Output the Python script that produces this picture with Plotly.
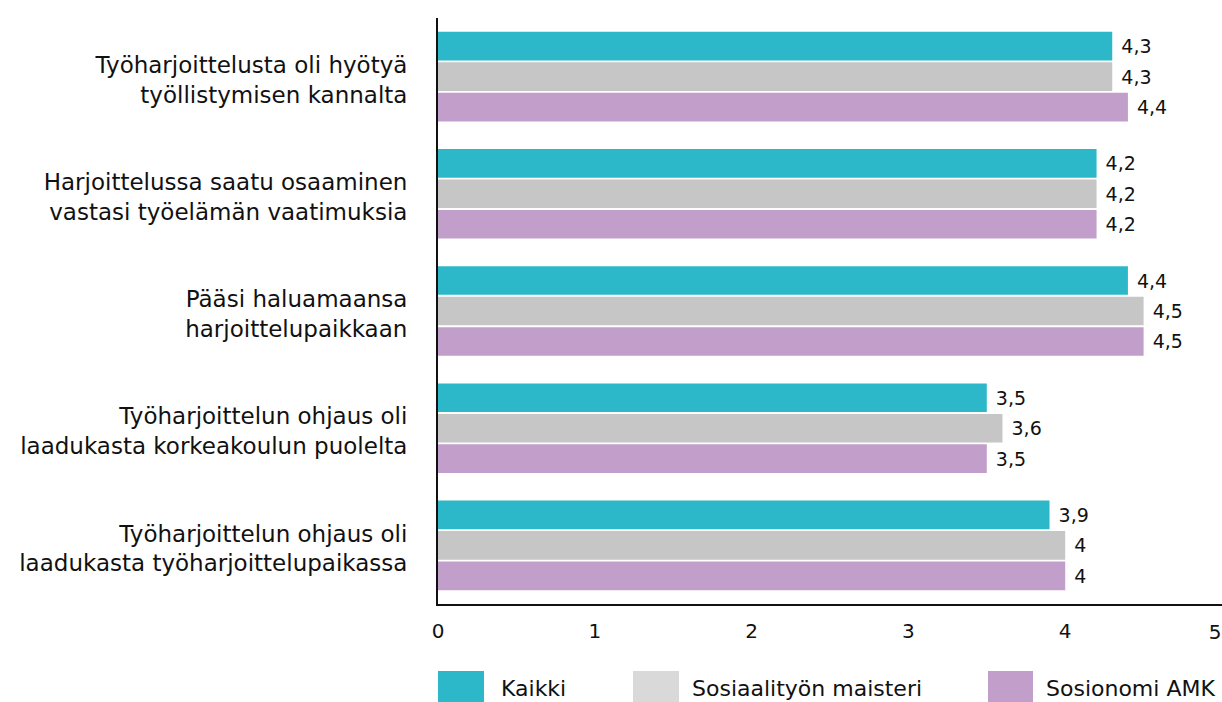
import plotly.graph_objects as go

categories = [
    "Työharjoittelusta oli hyötyä<br>työllistymisen kannalta",
    "Harjoittelussa saatu osaaminen<br>vastasi työelämän vaatimuksia",
    "Pääsi haluamaansa<br>harjoittelupaikkaan",
    "Työharjoittelun ohjaus oli<br>laadukasta korkeakoulun puolelta",
    "Työharjoittelun ohjaus oli<br>laadukasta työharjoittelupaikassa",
]
series_names = ["Kaikki", "Sosiaalityön maisteri", "Sosionomi AMK"]
kaikki = [4.3, 4.2, 4.4, 3.5, 3.9]
sosiaalityo = [4.3, 4.2, 4.5, 3.6, 4.0]
sosionomi = [4.4, 4.2, 4.5, 3.5, 4.0]
x_ticks = [0, 1, 2, 3, 4, 5]

bar_colors = ["#2cb8c8", "#c6c6c6", "#c29eca"]
legend_colors = ["#2cb8c8", "#d9d9d9", "#c29eca"]
FONT = "DejaVu Sans, sans-serif"

fig = go.Figure()
for name, vals, col in zip(series_names, [kaikki, sosiaalityo, sosionomi], bar_colors):
    fig.add_trace(go.Bar(
        y=categories, x=vals, name=name, orientation="h",
        marker=dict(color=col, line=dict(width=0)),
        text=[("%g" % v).replace(".", ",") for v in vals],
        texttemplate="\u00a0%{text}",
        textposition="outside", cliponaxis=False,
        textfont=dict(family=FONT, size=19, color="#111111"),
        showlegend=False,
    ))

# invisible helper trace so the secondary x axis (carrying the last tick label) is drawn
fig.add_trace(go.Scatter(x=kaikki, y=categories, xaxis="x2", yaxis="y",
                         mode="markers", marker=dict(opacity=0, size=1),
                         hoverinfo="skip", showlegend=False))

tickfont = dict(family=FONT, size=20, color="#111111")
fig.update_layout(
    width=1222, height=702,
    margin=dict(l=438, r=0, t=18, b=98, autoexpand=False),
    paper_bgcolor="white", plot_bgcolor="white",
    barmode="group", bargap=0.22, bargroupgap=0.06,
    font=dict(family=FONT, size=20, color="#111111"),
    separators=", ",
    xaxis=dict(range=[0, 5], tickvals=x_ticks[:-1],
               showgrid=False, zeroline=False, automargin=False,
               showline=True, linecolor="#111111", linewidth=2,
               ticks="outside", ticklen=8, tickcolor="rgba(0,0,0,0)",
               tickfont=tickfont),
    xaxis2=dict(range=[0, 5], tickvals=x_ticks[-1:], overlaying="x", anchor="y",
                side="bottom", showgrid=False, zeroline=False, automargin=False,
                showline=False, ticks="outside", ticklen=8,
                ticklabelstandoff=10,
                tickcolor="rgba(0,0,0,0)", ticklabelposition="outside left",
                tickfont=tickfont),
    yaxis=dict(autorange="reversed", showgrid=False, zeroline=False,
               automargin=False,
               showline=True, linecolor="#111111", linewidth=2,
               ticks="outside", ticklen=24, tickcolor="rgba(0,0,0,0)",
               ticklabelshift=-3,
               tickfont=dict(family=FONT, size=23, color="#111111")),
)

# Custom legend at the bottom
plot_h = 702 - 18 - 98
plot_w = 1222 - 438
def px_x(p):
    return (p - 438) / plot_w
def px_y(p):
    return (604 - p) / plot_h

legend_x = [(438, 484, 499), (633, 679, 690), (988, 1033, 1044)]
for (x0, x1, tx), name, col in zip(legend_x, series_names, legend_colors):
    fig.add_shape(type="rect", xref="paper", yref="paper",
                  x0=px_x(x0), x1=px_x(x1), y0=px_y(671), y1=px_y(706),
                  fillcolor=col, line=dict(width=0))
    fig.add_annotation(xref="paper", yref="paper", x=px_x(tx), y=px_y(688),
                       text=name, showarrow=False, xanchor="left", yanchor="middle",
                       font=dict(family=FONT, size=22, color="#111111"))

fig.write_html("out.html", config={"displayModeBar": False},
               post_script="document.body.style.margin='0';")
